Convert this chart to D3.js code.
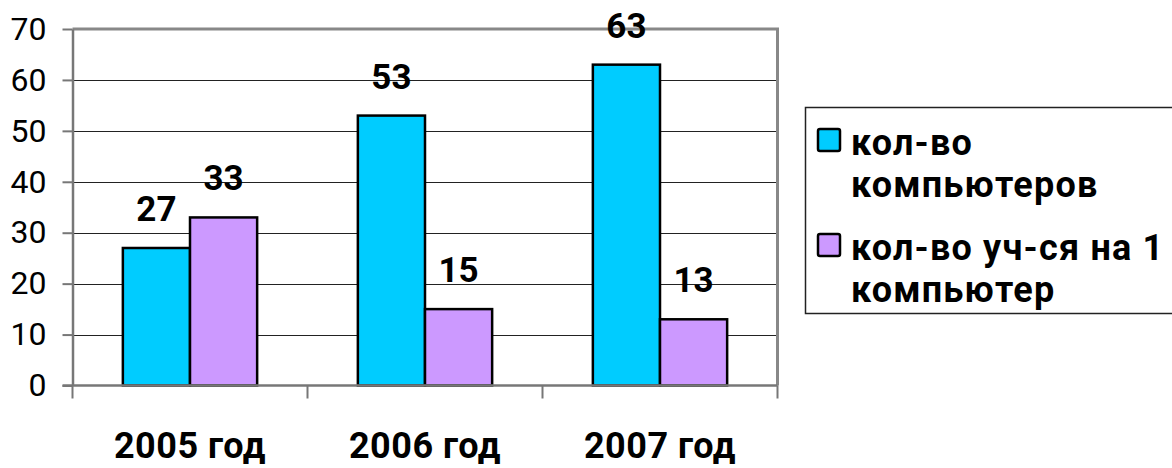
<!DOCTYPE html>
<html><head><meta charset="utf-8">
<script src="https://cdn.jsdelivr.net/npm/d3@7"></script>
<style>
body{margin:0;background:#fff;}
svg{display:block;font-family:Roboto,"Noto Sans",sans-serif;}
</style></head>
<body><svg id="c" width="1172" height="468"></svg>
<script>
const categories = ["2005 год","2006 год","2007 год"];
const seriesNames = ["кол-во компьютеров","кол-во уч-ся на 1 компьютер"];
const computers = [27,53,63];
const studentsPerComputer = [33,15,13];
const yTicks = [0,10,20,30,40,50,60,70];
const legendLines = [["кол-во","компьютеров"],["кол-во уч-ся на 1","компьютер"]];
const colors = ["#00CCFF","#CC99FF"];

const values = [computers, studentsPerComputer];
const svg = d3.select("#c");
const L=72.5, R=777.5, T=29, B=385.5;

const x0 = d3.scaleBand().domain(categories).range([L,R]).padding(0);
const x1 = d3.scaleBand().domain(seriesNames).range([0,x0.bandwidth()]).paddingInner(0).paddingOuter(0.75);
const y = d3.scaleLinear().domain([0,70]).range([B,T]);

// gridlines
svg.append("g").selectAll("line").data(yTicks.filter(t=>t>0&&t<70)).join("line")
  .attr("x1",L).attr("x2",R).attr("y1",d=>Math.round(y(d))+0.5).attr("y2",d=>Math.round(y(d))+0.5)
  .attr("stroke","#222").attr("stroke-width",1.1);

// plot border top/right
svg.append("path").attr("d",`M${L},${T}H${R}V${B}`).attr("fill","none").attr("stroke","#888").attr("stroke-width",3);

// bars
const g = svg.append("g");
categories.forEach((c,i)=>{
  seriesNames.forEach((s,j)=>{
    const v = values[j][i];
    g.append("rect").attr("x",x0(c)+x1(s)).attr("y",y(v)).attr("width",x1.bandwidth()).attr("height",y(0)-y(v))
      .attr("fill",colors[j]).attr("stroke","#000").attr("stroke-width",2.5);
    g.append("text").attr("x",x0(c)+x1(s)+x1.bandwidth()/2).attr("y",y(v)-27)
      .attr("text-anchor","middle").attr("font-weight","bold").attr("font-size",35).attr("fill","#000").text(v);
  });
});

// y axis
const ya = d3.axisLeft(y).tickValues(yTicks).tickSize(10).tickPadding(16).tickSizeOuter(0);
const yg = svg.append("g").attr("transform",`translate(${L},0)`).call(ya);
yg.select(".domain").attr("stroke","#777").attr("stroke-width",2.5);
yg.selectAll(".tick line").attr("stroke","#777").attr("stroke-width",2);
yg.selectAll(".tick text").attr("font-size",32).attr("fill","#000").attr("font-family","Roboto");

// x axis baseline
svg.append("line").attr("x1",L-10).attr("x2",R).attr("y1",B).attr("y2",B).attr("stroke","#777").attr("stroke-width",2.5);
// category ticks at boundaries
const bounds = categories.map(c=>x0(c)).concat([x0(categories[categories.length-1])+x0.bandwidth()]);
svg.append("g").selectAll("line").data(bounds).join("line")
  .attr("x1",d=>d).attr("x2",d=>d).attr("y1",B).attr("y2",B+13).attr("stroke","#777").attr("stroke-width",2);
svg.append("g").selectAll("text").data(categories).join("text")
  .attr("x",d=>x0(d)+x0.bandwidth()/2).attr("y",458).attr("text-anchor","middle")
  .attr("font-weight","bold").attr("font-size",36).attr("letter-spacing",0.5).attr("fill","#000").text(d=>d);

// legend
const lg = svg.append("g");
lg.append("rect").attr("x",805.5).attr("y",107.5).attr("width",400).attr("height",206).attr("fill","#fff").attr("stroke","#222").attr("stroke-width",1.5);
const entryY = [0,105];
legendLines.forEach((lines,i)=>{
  lg.append("rect").attr("x",818).attr("y",129+entryY[i]).attr("width",22).attr("height",22).attr("rx",2)
    .attr("fill",colors[i]).attr("stroke","#000").attr("stroke-width",2.5);
  lines.forEach((t,k)=>{
    lg.append("text").attr("x",851).attr("y",155+entryY[i]+k*42).attr("font-weight","bold").attr("font-size",36)
      .attr("letter-spacing",1.2).attr("fill","#000").text(t);
  });
});
</script></body></html>
